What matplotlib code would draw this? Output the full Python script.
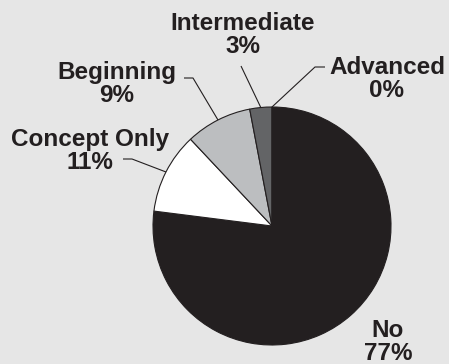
import numpy as np
import matplotlib
matplotlib.use("Agg")
import matplotlib.pyplot as plt

# Survey responses: level of experience
categories = ["No", "Concept Only", "Beginning", "Intermediate", "Advanced"]
percents = [77, 11, 9, 3, 0]
labels = ["No\n77%", "Concept Only\n11%", "Beginning\n9%", "Intermediate\n3%", "Advanced\n0%"]

colors = ["#231f20", "#ffffff", "#bcbec0", "#636466", "#8a8a8a"]
bg = "#e6e6e6"
ink = "#231f20"

W, H = 449, 364
fig = plt.figure(figsize=(W / 100, H / 100), dpi=100, facecolor=bg)
ax = fig.add_axes([0, 0, 1, 1])
ax.set_facecolor(bg)

cx, cy, r = 272, H - 226, 119
start = 90
wedges, _ = ax.pie(percents, colors=colors, startangle=start, counterclock=False,
                   center=(cx, cy), radius=r,
                   wedgeprops=dict(edgecolor=ink, linewidth=0.8))

# label block centres and leader-line elbows (pixel layout, y measured from top)
layout = {
    "No": dict(text=(388, 342), path=None),
    "Concept Only": dict(text=(90, 151), path=[(123, 159), (132, 159)]),
    "Beginning": dict(text=(117, 84), path=[(184, 78), (193, 78)]),
    "Intermediate": dict(text=(243, 35), path=[(241, 66)]),
    "Advanced": dict(text=(387, 79), path=[(325, 67), (315, 67)]),
}

font = dict(family=["Liberation Sans", "DejaVu Sans"], fontsize=17.5, fontweight="bold", color=ink)

cum = 0.0
total = float(sum(percents))
for cat, val, lab in zip(categories, percents, labels):
    mid = start - (cum + val / 2.0) / total * 360.0
    cum += val
    spec = layout[cat]
    tx, ty = spec["text"]
    ax.text(tx, H - ty, lab, ha="center", va="center", linespacing=0.95, **font)
    if spec["path"]:
        ex = cx + r * np.cos(np.radians(mid))
        ey = cy + r * np.sin(np.radians(mid))
        xs = [p[0] for p in spec["path"]]
        ys = [H - p[1] for p in spec["path"]]
        ax.plot(xs + [ex], ys + [ey], color=ink, lw=0.8, solid_capstyle="butt")

ax.set_xlim(0, W)
ax.set_ylim(0, H)
ax.set_aspect("equal")
ax.axis("off")

fig.savefig("out.png", dpi=100, facecolor=bg)
